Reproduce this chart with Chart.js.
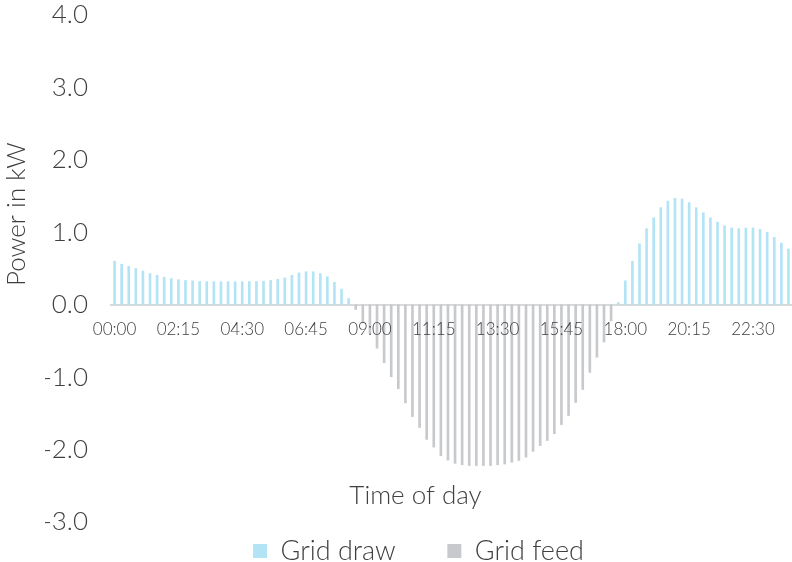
<!DOCTYPE html>
<html>
<head>
<meta charset="utf-8">
<script src="https://cdn.jsdelivr.net/npm/chart.js@4"></script>
<style>
  html, body { margin: 0; padding: 0; background: #fff; }
</style>
</head>
<body>
<canvas id="gridChart" width="792" height="562"></canvas>
<script>
// 15 minute slots over one day
const times = [];
for (let m = 0; m < 24 * 60; m += 15) {
  times.push(String(Math.floor(m / 60)).padStart(2, '0') + ':' + String(m % 60).padStart(2, '0'));
}

const yTicks = [-3, -2, -1, 0, 1, 2, 3, 4];

// kW drawn from the grid (null while feeding in)
const gridDraw = [
  0.60, 0.56, 0.53, 0.50, 0.465, 0.43, 0.405, 0.38, 0.36, 0.345,
  0.335, 0.33, 0.32, 0.318, 0.318, 0.318, 0.318, 0.318, 0.318, 0.318,
  0.32, 0.325, 0.335, 0.35, 0.37, 0.405, 0.44, 0.455, 0.455, 0.43,
  0.385, 0.31, 0.215, 0.085, null, null, null, null, null, null,
  null, null, null, null, null, null, null, null, null, null,
  null, null, null, null, null, null, null, null, null, null,
  null, null, null, null, null, null, null, null, null, null,
  null, 0.03, 0.33, 0.60, 0.84, 1.05, 1.20, 1.34, 1.43, 1.47,
  1.46, 1.41, 1.34, 1.27, 1.20, 1.14, 1.09, 1.06, 1.05, 1.06,
  1.06, 1.04, 1.00, 0.93, 0.85, 0.77
];

// kW fed into the grid (negative)
const gridFeed = [
  null, null, null, null, null, null, null, null, null, null,
  null, null, null, null, null, null, null, null, null, null,
  null, null, null, null, null, null, null, null, null, null,
  null, null, null, null, -0.065, -0.25, -0.39, -0.60, -0.80, -0.995,
  -1.16, -1.355, -1.545, -1.695, -1.86, -1.965, -2.085, -2.145, -2.19, -2.21,
  -2.22, -2.22, -2.22, -2.22, -2.21, -2.20, -2.175, -2.15, -2.105, -2.025,
  -1.945, -1.875, -1.78, -1.655, -1.53, -1.35, -1.17, -0.935, -0.725, -0.515,
  -0.225, null, null, null, null, null, null, null, null, null,
  null, null, null, null, null, null, null, null, null, null,
  null, null, null, null, null, null
];

const textColor = '#404040';
const fontFamily = 'Lato';

// axis titles sit where Excel put them, not where Chart.js centres them
const axisTitles = {
  id: 'axisTitles',
  afterDraw(chart) {
    const { ctx, scales: { y } } = chart;
    ctx.save();
    ctx.fillStyle = textColor;
    ctx.font = '300 26px ' + fontFamily;
    ctx.textAlign = 'center';
    ctx.textBaseline = 'middle';
    ctx.fillText('Time of day', (chart.legend.left + chart.legend.right) / 2 - 3, y.getPixelForValue(-2.64));
    ctx.translate(17, y.getPixelForValue(1.25));
    ctx.rotate(-Math.PI / 2);
    ctx.fillText('Power in kW', 0, 0);
    ctx.restore();
  }
};

const ctx = document.getElementById('gridChart').getContext('2d');
new Chart(ctx, {
  type: 'bar',
  data: {
    labels: times,
    datasets: [{
      label: 'Grid draw',
      data: gridDraw,
      backgroundColor: '#b2e4f5',
      borderWidth: 0,
      barThickness: 2
    }, {
      label: 'Grid feed',
      data: gridFeed,
      backgroundColor: '#c7c9cc',
      borderWidth: 0,
      barThickness: 2
    }]
  },
  options: {
    responsive: false,
    animation: false,
    layout: { padding: { left: 45, right: 0, top: 15, bottom: -12.5 } },
    scales: {
      x: {
        type: 'category',
        position: { y: 0 },
        stacked: true,
        offset: true,
        grid: { display: false, drawTicks: false },
        border: { display: true, color: '#d9d9d9', width: 2 },
        ticks: {
          autoSkip: false,
          maxRotation: 0,
          minRotation: 0,
          padding: 15,
          z: 1,
          color: textColor,
          font: { family: fontFamily, size: 17, weight: '300' },
          callback: (val, i) => (i % 9 === 0 ? times[i] : '')
        },
        afterFit: scale => {
          // labels sit on the zero line, so this axis needs no room of its own
          scale.height = 0;
          scale.paddingLeft = 0;
          scale.paddingRight = 0;
        }
      },
      y: {
        min: yTicks[0],
        max: yTicks[yTicks.length - 1],
        stacked: true,
        grid: { display: false, drawTicks: false },
        border: { display: false },
        ticks: {
          stepSize: 1,
          padding: 23,
          color: textColor,
          font: { family: fontFamily, size: 26, weight: '300', lineHeight: 1 },
          callback: v => v.toFixed(1)
        },
        afterFit: scale => {
          scale.width = 66;
          scale.paddingTop = 13;
          scale.paddingBottom = 13;
        }
      }
    },
    plugins: {
      legend: {
        position: 'bottom',
        labels: {
          boxWidth: 14,
          boxHeight: 14,
          padding: 15.5,
          color: textColor,
          font: { family: fontFamily, size: 27, weight: '300' },
          generateLabels: chart => {
            const items = Chart.defaults.plugins.legend.labels.generateLabels(chart);
            items[0].text += '\u00a0'.repeat(5);
            return items;
          }
        }
      },
      tooltip: { enabled: false }
    }
  },
  plugins: [axisTitles]
});
</script>
</body>
</html>
